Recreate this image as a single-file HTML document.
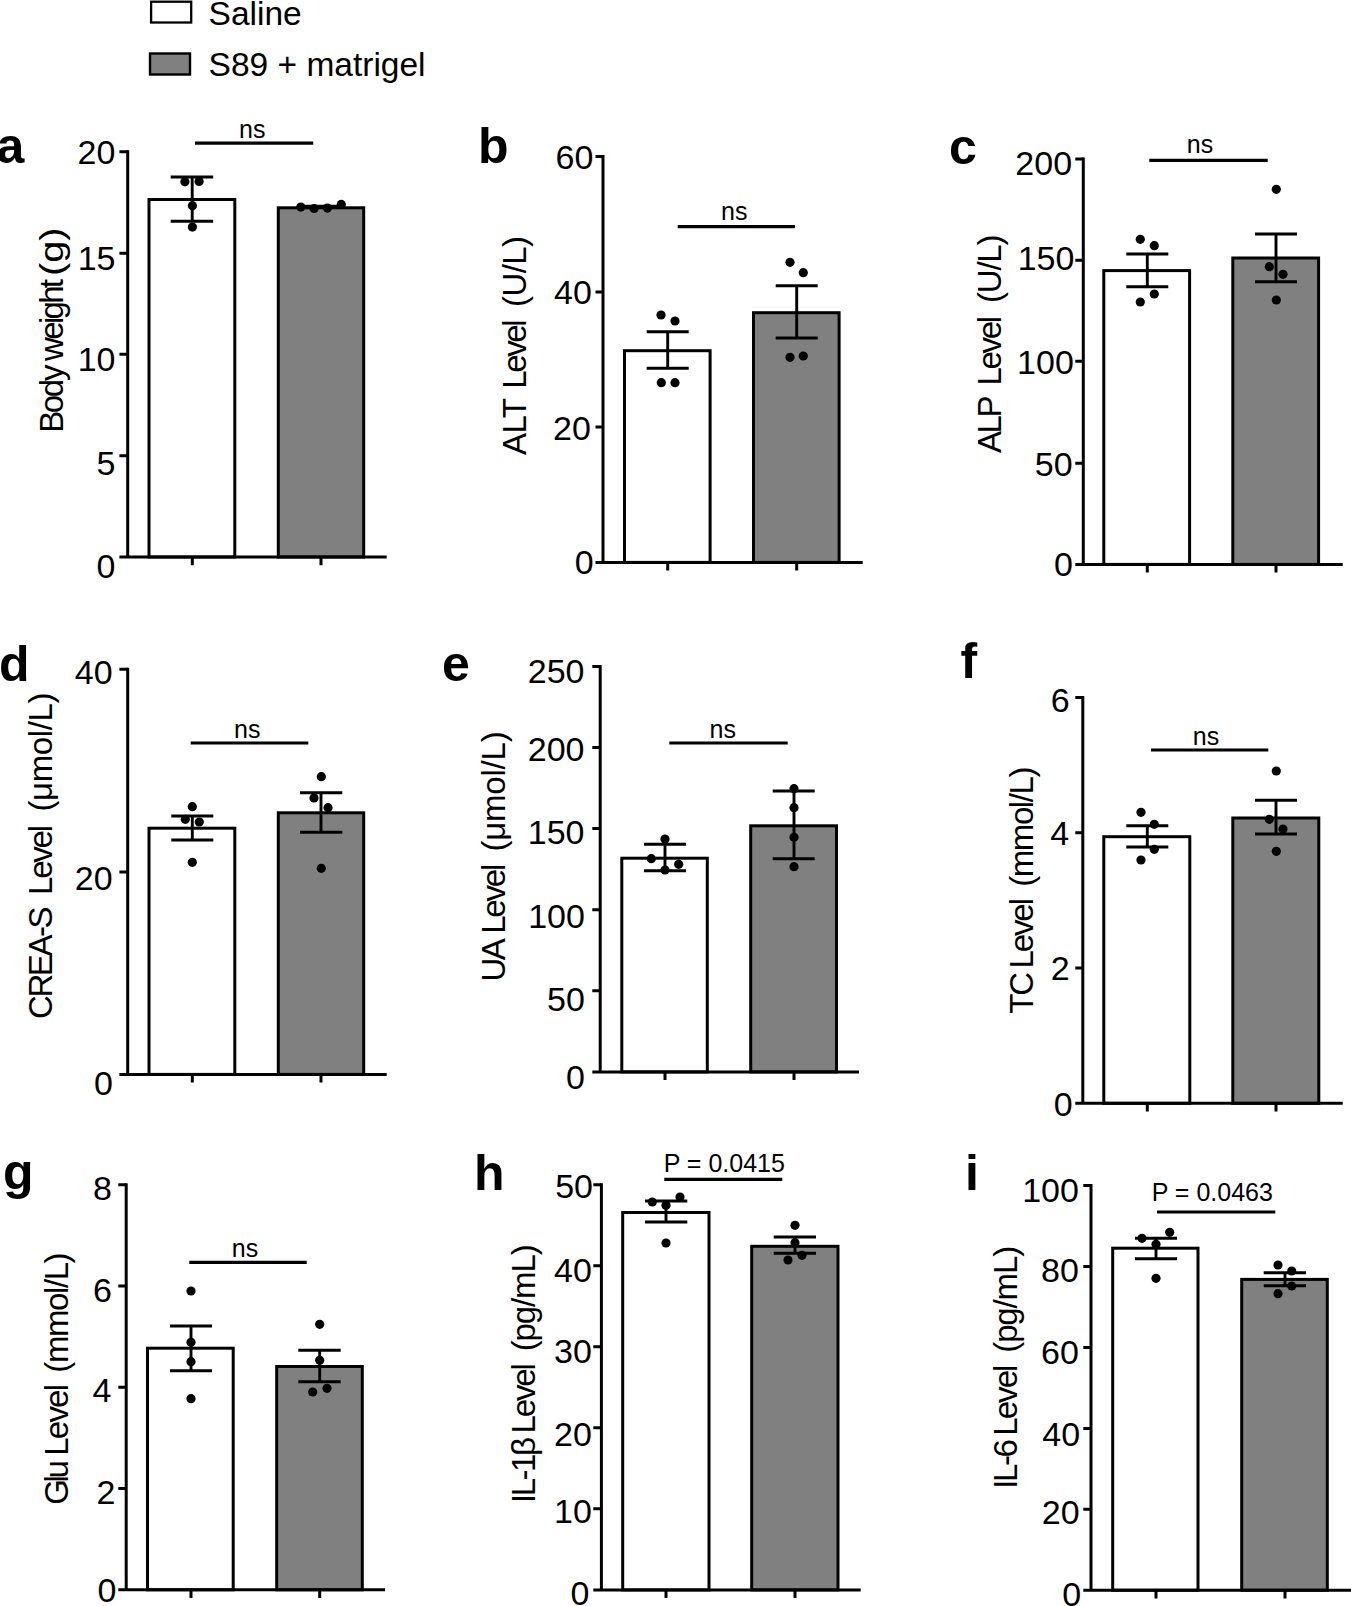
<!DOCTYPE html>
<html lang="en"><head><meta charset="utf-8"><title>Figure</title>
<style>html,body{margin:0;padding:0;background:#fff;overflow:hidden;width:1351px;height:1606px;font-family:"Liberation Sans",sans-serif}svg{display:block}</style></head>
<body>
<svg width="1351" height="1606" viewBox="0 0 1351 1606" font-family="'Liberation Sans', sans-serif" fill="#000">
<rect x="0" y="0" width="1351" height="1606" fill="#fff"/>
<rect x="151.1" y="1.7" width="40.1" height="20.8" fill="#fff" stroke="#000" stroke-width="2.3"/>
<rect x="150" y="53.5" width="40" height="21" fill="#808080" stroke="#000" stroke-width="2.4"/>
<text x="208.6" y="24.7" font-size="33.5">Saline</text>
<text x="208.6" y="75.9" font-size="33.5">S89 + matrigel</text>
<g>
<rect x="149" y="199.5" width="85.8" height="357.5" fill="#fff" stroke="#000" stroke-width="3.0"/>
<rect x="278.3" y="207.8" width="85.4" height="349.2" fill="#808080" stroke="#000" stroke-width="3.0"/>
<path d="M127.7 150.2V558.5M119.4 557H386.7" stroke="#000" stroke-width="3.0" fill="none"/>
<path d="M119.4 151.7H127.7M119.4 253.2H127.7M119.4 354.2H127.7M119.4 455.8H127.7M192.3 557V565.2M321 557V565.2" stroke="#000" stroke-width="3.0" fill="none"/>
<text x="115.3" y="164" font-size="34" text-anchor="end">20</text>
<text x="115.5" y="270" font-size="34" text-anchor="end">15</text>
<text x="115.5" y="371" font-size="34" text-anchor="end">10</text>
<text x="115.5" y="475" font-size="34" text-anchor="end">5</text>
<text x="115.5" y="578" font-size="34" text-anchor="end">0</text>
<path d="M192.2 177V221.3M170.7 177H213.2M170.7 221.3H213.2M321 206.2V207.2M300 206.2H342M300 207.2H342" stroke="#000" stroke-width="2.9" fill="none"/>
<circle cx="184.9" cy="181.8" r="4.6"/>
<circle cx="199.1" cy="181.5" r="4.6"/>
<circle cx="192.4" cy="205.8" r="4.6"/>
<circle cx="192.4" cy="227.1" r="4.6"/>
<circle cx="300.8" cy="207.1" r="4.6"/>
<circle cx="314.1" cy="208.5" r="4.6"/>
<circle cx="327.4" cy="208.1" r="4.6"/>
<circle cx="341.3" cy="204.4" r="4.6"/>
<text x="252.3" y="138.4" font-size="25" text-anchor="middle">ns</text>
<path d="M195 143.1H313.2" stroke="#000" stroke-width="3.2" fill="none"/>
<text transform="translate(63 432.8) rotate(-90)" font-size="33" textLength="68.2" lengthAdjust="spacing">Body</text>
<text transform="translate(63 360.9) rotate(-90)" font-size="33" textLength="81.9" lengthAdjust="spacing">weight</text>
<text transform="translate(63 275.9) rotate(-90)" font-size="33" textLength="48.5" lengthAdjust="spacingAndGlyphs">(g)</text>
<text x="-3.5" y="163.3" font-size="50" font-weight="bold">a</text>
</g>
<g>
<rect x="624.5" y="350.7" width="85.6" height="211.7" fill="#fff" stroke="#000" stroke-width="3.0"/>
<rect x="753.5" y="312.7" width="85.6" height="249.7" fill="#808080" stroke="#000" stroke-width="3.0"/>
<path d="M603 155.1V563.9M595.5 562.4H862.7" stroke="#000" stroke-width="3.0" fill="none"/>
<path d="M595.5 156.6H603M595.5 292H603M595.5 426.9H603M667.7 562.4V570.6M796.7 562.4V570.6" stroke="#000" stroke-width="3.0" fill="none"/>
<text x="593.3" y="169" font-size="34" text-anchor="end">60</text>
<text x="591.8" y="304" font-size="34" text-anchor="end">40</text>
<text x="590.8" y="440" font-size="34" text-anchor="end">20</text>
<text x="593.7" y="574" font-size="34" text-anchor="end">0</text>
<path d="M667.7 331.7V368.3M646.7 331.7H688.7M646.7 368.3H688.7M796.7 285.7V338M775.7 285.7H817.7M775.7 338H817.7" stroke="#000" stroke-width="2.9" fill="none"/>
<circle cx="661" cy="315" r="4.6"/>
<circle cx="675" cy="321" r="4.6"/>
<circle cx="661.3" cy="382.7" r="4.6"/>
<circle cx="675" cy="382.7" r="4.6"/>
<circle cx="790" cy="262.3" r="4.6"/>
<circle cx="803.3" cy="272.7" r="4.6"/>
<circle cx="790" cy="357.3" r="4.6"/>
<circle cx="803.3" cy="356" r="4.6"/>
<text x="734.3" y="220" font-size="25" text-anchor="middle">ns</text>
<path d="M677.7 226.7H795" stroke="#000" stroke-width="3.2" fill="none"/>
<text transform="translate(525.6 454.9) rotate(-90)" font-size="33" textLength="56.9" lengthAdjust="spacing">ALT</text>
<text transform="translate(525.6 388.7) rotate(-90)" font-size="33" textLength="69.4" lengthAdjust="spacing">Level</text>
<text transform="translate(525.6 307) rotate(-90)" font-size="33" textLength="71.1" lengthAdjust="spacing">(U/L)</text>
<text x="478" y="163.4" font-size="50" font-weight="bold">b</text>
</g>
<g>
<rect x="1103.8" y="270.6" width="85.8" height="293.8" fill="#fff" stroke="#000" stroke-width="3.0"/>
<rect x="1232.8" y="258" width="85.8" height="306.4" fill="#808080" stroke="#000" stroke-width="3.0"/>
<path d="M1083.3 157.4V565.9M1075.3 564.4H1342.7" stroke="#000" stroke-width="3.0" fill="none"/>
<path d="M1075.3 158.9H1083.3M1075.3 260.3H1083.3M1075.3 361.3H1083.3M1075.3 463.3H1083.3M1147.3 564.4V572.6M1276 564.4V572.6" stroke="#000" stroke-width="3.0" fill="none"/>
<text x="1072.1" y="175" font-size="34" text-anchor="end">200</text>
<text x="1074.4" y="270" font-size="34" text-anchor="end">150</text>
<text x="1073.8" y="374" font-size="34" text-anchor="end">100</text>
<text x="1072.6" y="476" font-size="34" text-anchor="end">50</text>
<text x="1072.9" y="576" font-size="34" text-anchor="end">0</text>
<path d="M1147.3 254V286.7M1126.3 254H1168.3M1126.3 286.7H1168.3M1276 234V281.7M1255 234H1297M1255 281.7H1297" stroke="#000" stroke-width="2.9" fill="none"/>
<circle cx="1140.3" cy="239.3" r="4.6"/>
<circle cx="1154.3" cy="245.7" r="4.6"/>
<circle cx="1154.3" cy="294" r="4.6"/>
<circle cx="1140.3" cy="302" r="4.6"/>
<circle cx="1276.3" cy="189.3" r="4.6"/>
<circle cx="1269.3" cy="266.7" r="4.6"/>
<circle cx="1283" cy="274.3" r="4.6"/>
<circle cx="1276.3" cy="300" r="4.6"/>
<text x="1200" y="153.3" font-size="25" text-anchor="middle">ns</text>
<path d="M1149.3 160.3H1267.7" stroke="#000" stroke-width="3.2" fill="none"/>
<text transform="translate(1001 452.9) rotate(-90)" font-size="33" textLength="57.3" lengthAdjust="spacing">ALP</text>
<text transform="translate(1001 385.5) rotate(-90)" font-size="33" textLength="69.5" lengthAdjust="spacing">Level</text>
<text transform="translate(1001 302.9) rotate(-90)" font-size="33" textLength="68.3" lengthAdjust="spacing">(U/L)</text>
<text x="949" y="163.7" font-size="50" font-weight="bold">c</text>
</g>
<g>
<rect x="149" y="828.2" width="85.8" height="246.2" fill="#fff" stroke="#000" stroke-width="3.0"/>
<rect x="278.3" y="812.8" width="85.4" height="261.6" fill="#808080" stroke="#000" stroke-width="3.0"/>
<path d="M127.7 667.8V1075.9M119.4 1074.4H386.7" stroke="#000" stroke-width="3.0" fill="none"/>
<path d="M119.4 669.3H127.7M119.4 871.9H127.7M192.3 1074.4V1082.6M321 1074.4V1082.6" stroke="#000" stroke-width="3.0" fill="none"/>
<text x="112.6" y="684" font-size="34" text-anchor="end">40</text>
<text x="112.6" y="890" font-size="34" text-anchor="end">20</text>
<text x="112.9" y="1095" font-size="34" text-anchor="end">0</text>
<path d="M192.3 816V840M171.3 816H213.3M171.3 840H213.3M321 792.7V832.3M300 792.7H342.3M300 832.3H342.3" stroke="#000" stroke-width="2.9" fill="none"/>
<circle cx="192.3" cy="806.7" r="4.6"/>
<circle cx="185.3" cy="819.3" r="4.6"/>
<circle cx="199.3" cy="822" r="4.6"/>
<circle cx="192.3" cy="862.3" r="4.6"/>
<circle cx="321.3" cy="776.7" r="4.6"/>
<circle cx="314" cy="798" r="4.6"/>
<circle cx="328" cy="807.7" r="4.6"/>
<circle cx="321.3" cy="868.3" r="4.6"/>
<text x="247.3" y="738.3" font-size="25" text-anchor="middle">ns</text>
<path d="M190.7 743H308.3" stroke="#000" stroke-width="3.2" fill="none"/>
<text transform="translate(52.1 1019) rotate(-90)" font-size="33" textLength="112.6" lengthAdjust="spacing">CREA-S</text>
<text transform="translate(52.1 894.9) rotate(-90)" font-size="33" textLength="69.9" lengthAdjust="spacing">Level</text>
<text transform="translate(52.1 811.6) rotate(-90)" font-size="33" textLength="119.1" lengthAdjust="spacing">(μmol/L)</text>
<text x="-1" y="680.7" font-size="50" font-weight="bold">d</text>
</g>
<g>
<rect x="621.8" y="858.2" width="85.5" height="213.7" fill="#fff" stroke="#000" stroke-width="3.0"/>
<rect x="750.7" y="825.8" width="85.8" height="246.1" fill="#808080" stroke="#000" stroke-width="3.0"/>
<path d="M600.2 664.9V1073.4M592.3 1071.9H859" stroke="#000" stroke-width="3.0" fill="none"/>
<path d="M592.3 666.4H600.2M592.3 747.5H600.2M592.3 828.6H600.2M592.3 909.7H600.2M592.3 990.8H600.2M665 1071.9V1080.1M794 1071.9V1080.1" stroke="#000" stroke-width="3.0" fill="none"/>
<text x="584.5" y="683" font-size="34" text-anchor="end">250</text>
<text x="584.5" y="761" font-size="34" text-anchor="end">200</text>
<text x="584.5" y="844" font-size="34" text-anchor="end">150</text>
<text x="584.9" y="928" font-size="34" text-anchor="end">100</text>
<text x="584.9" y="1011" font-size="34" text-anchor="end">50</text>
<text x="584.9" y="1089" font-size="34" text-anchor="end">0</text>
<path d="M665 844.3V870.7M644 844.3H686M644 870.7H686M794 791V858.7M772.7 791H814.7M772.7 858.7H814.7" stroke="#000" stroke-width="2.9" fill="none"/>
<circle cx="665" cy="839" r="4.6"/>
<circle cx="651.3" cy="858.7" r="4.6"/>
<circle cx="678.7" cy="864.3" r="4.6"/>
<circle cx="665" cy="870" r="4.6"/>
<circle cx="794" cy="788.7" r="4.6"/>
<circle cx="794" cy="807.7" r="4.6"/>
<circle cx="794" cy="837.3" r="4.6"/>
<circle cx="794" cy="866.7" r="4.6"/>
<text x="722.7" y="738.3" font-size="25" text-anchor="middle">ns</text>
<path d="M669.3 743H787.7" stroke="#000" stroke-width="3.2" fill="none"/>
<text transform="translate(505.2 981.5) rotate(-90)" font-size="33" textLength="43.4" lengthAdjust="spacing">UA</text>
<text transform="translate(505.2 933.8) rotate(-90)" font-size="33" textLength="70.1" lengthAdjust="spacing">Level</text>
<text transform="translate(505.2 851.6) rotate(-90)" font-size="33" textLength="120.3" lengthAdjust="spacing">(μmol/L)</text>
<text x="442" y="681.2" font-size="50" font-weight="bold">e</text>
</g>
<g>
<rect x="1103.8" y="836.7" width="86" height="266.6" fill="#fff" stroke="#000" stroke-width="3.0"/>
<rect x="1232.8" y="818" width="86" height="285.3" fill="#808080" stroke="#000" stroke-width="3.0"/>
<path d="M1082.8 695.9V1104.8M1075.3 1103.3H1342.7" stroke="#000" stroke-width="3.0" fill="none"/>
<path d="M1075.3 697.4H1082.8M1075.3 832.7H1082.8M1075.3 968H1082.8M1147.3 1103.3V1111.5M1276 1103.3V1111.5" stroke="#000" stroke-width="3.0" fill="none"/>
<text x="1069.6" y="712" font-size="34" text-anchor="end">6</text>
<text x="1069.2" y="845" font-size="34" text-anchor="end">4</text>
<text x="1069.6" y="980" font-size="34" text-anchor="end">2</text>
<text x="1072.6" y="1116" font-size="34" text-anchor="end">0</text>
<path d="M1147.3 825.7V847M1126.3 825.7H1168.3M1126.3 847H1168.3M1276 800.3V834M1255 800.3H1297M1255 834H1297" stroke="#000" stroke-width="2.9" fill="none"/>
<circle cx="1141" cy="812.3" r="4.6"/>
<circle cx="1154.3" cy="824.3" r="4.6"/>
<circle cx="1154.3" cy="849.3" r="4.6"/>
<circle cx="1141" cy="860" r="4.6"/>
<circle cx="1276.3" cy="771" r="4.6"/>
<circle cx="1269.3" cy="819.3" r="4.6"/>
<circle cx="1283" cy="829" r="4.6"/>
<circle cx="1276.3" cy="851.3" r="4.6"/>
<text x="1206" y="745" font-size="25" text-anchor="middle">ns</text>
<path d="M1151 750H1268.3" stroke="#000" stroke-width="3.2" fill="none"/>
<text transform="translate(1032.6 1013.7) rotate(-90)" font-size="33" textLength="41.7" lengthAdjust="spacing">TC</text>
<text transform="translate(1032.6 968.6) rotate(-90)" font-size="33" textLength="70.6" lengthAdjust="spacing">Level</text>
<text transform="translate(1032.6 886.8) rotate(-90)" font-size="33" textLength="120.3" lengthAdjust="spacing">(mmol/L)</text>
<text x="960.5" y="678" font-size="50" font-weight="bold">f</text>
</g>
<g>
<rect x="147.5" y="1348.2" width="85.7" height="241.6" fill="#fff" stroke="#000" stroke-width="3.0"/>
<rect x="276.7" y="1366.5" width="85.6" height="223.3" fill="#808080" stroke="#000" stroke-width="3.0"/>
<path d="M126.2 1183.3V1591.3M118.3 1589.8H385" stroke="#000" stroke-width="3.0" fill="none"/>
<path d="M118.3 1184.8H126.2M118.3 1286H126.2M118.3 1387.2H126.2M118.3 1488.5H126.2M191 1589.8V1598M319.7 1589.8V1598" stroke="#000" stroke-width="3.0" fill="none"/>
<text x="111.9" y="1200" font-size="34" text-anchor="end">8</text>
<text x="111.9" y="1302" font-size="34" text-anchor="end">6</text>
<text x="111.4" y="1402" font-size="34" text-anchor="end">4</text>
<text x="115.3" y="1504" font-size="34" text-anchor="end">2</text>
<text x="116.3" y="1602" font-size="34" text-anchor="end">0</text>
<path d="M191 1326V1370.7M170 1326H212M170 1370.7H212M319.7 1350.3V1381.7M298.3 1350.3H340.7M298.3 1381.7H340.7" stroke="#000" stroke-width="2.9" fill="none"/>
<circle cx="191" cy="1291" r="4.6"/>
<circle cx="191" cy="1342.3" r="4.6"/>
<circle cx="191" cy="1361.7" r="4.6"/>
<circle cx="191" cy="1398.7" r="4.6"/>
<circle cx="319.7" cy="1324.3" r="4.6"/>
<circle cx="319.7" cy="1360.3" r="4.6"/>
<circle cx="312.7" cy="1392" r="4.6"/>
<circle cx="327" cy="1388.3" r="4.6"/>
<text x="245" y="1257" font-size="25" text-anchor="middle">ns</text>
<path d="M189.3 1262.3H306.7" stroke="#000" stroke-width="3.2" fill="none"/>
<text transform="translate(68.4 1504.8) rotate(-90)" font-size="33" textLength="44.7" lengthAdjust="spacing">Glu</text>
<text transform="translate(68.4 1455.7) rotate(-90)" font-size="33" textLength="71.7" lengthAdjust="spacing">Level</text>
<text transform="translate(68.4 1372.7) rotate(-90)" font-size="33" textLength="120.3" lengthAdjust="spacing">(mmol/L)</text>
<text x="3" y="1188.8" font-size="50" font-weight="bold">g</text>
</g>
<g>
<rect x="622.7" y="1212.5" width="86.3" height="377.4" fill="#fff" stroke="#000" stroke-width="3.0"/>
<rect x="751.7" y="1246.3" width="86.3" height="343.6" fill="#808080" stroke="#000" stroke-width="3.0"/>
<path d="M601.4 1183.3V1591.4M593.3 1589.9H860.7" stroke="#000" stroke-width="3.0" fill="none"/>
<path d="M593.3 1184.8H601.4M593.3 1265.8H601.4M593.3 1346.8H601.4M593.3 1427.8H601.4M593.3 1508.8H601.4M666 1589.9V1598.1M795 1589.9V1598.1" stroke="#000" stroke-width="3.0" fill="none"/>
<text x="593" y="1198" font-size="34" text-anchor="end">50</text>
<text x="591.8" y="1282" font-size="34" text-anchor="end">40</text>
<text x="591.8" y="1363" font-size="34" text-anchor="end">30</text>
<text x="591.8" y="1446" font-size="34" text-anchor="end">20</text>
<text x="591.8" y="1523" font-size="34" text-anchor="end">10</text>
<text x="589.3" y="1605" font-size="34" text-anchor="end">0</text>
<path d="M666 1201V1222M645 1201H687.3M645 1222H687.3M795 1237V1253.3M773.7 1237H816M773.7 1253.3H816" stroke="#000" stroke-width="2.9" fill="none"/>
<circle cx="652.3" cy="1202" r="4.6"/>
<circle cx="680" cy="1197" r="4.6"/>
<circle cx="666" cy="1205.3" r="4.6"/>
<circle cx="666" cy="1243" r="4.6"/>
<circle cx="795" cy="1225.3" r="4.6"/>
<circle cx="795" cy="1242.7" r="4.6"/>
<circle cx="788" cy="1260" r="4.6"/>
<circle cx="802" cy="1255.3" r="4.6"/>
<text x="724.3" y="1171.7" font-size="25" text-anchor="middle">P = 0.0415</text>
<path d="M664.3 1179.3H782.3" stroke="#000" stroke-width="3.2" fill="none"/>
<text transform="translate(535.1 1502.9) rotate(-90)" font-size="33" textLength="65.8" lengthAdjust="spacing">IL-1β</text>
<text transform="translate(535.1 1433.5) rotate(-90)" font-size="33" textLength="70.3" lengthAdjust="spacing">Level</text>
<text transform="translate(535.1 1351.3) rotate(-90)" font-size="33" textLength="107" lengthAdjust="spacing">(pg/mL)</text>
<text x="474" y="1189.7" font-size="50" font-weight="bold">h</text>
</g>
<g>
<rect x="1112.7" y="1248.2" width="85.3" height="342" fill="#fff" stroke="#000" stroke-width="3.0"/>
<rect x="1241.7" y="1279.4" width="85.6" height="310.8" fill="#808080" stroke="#000" stroke-width="3.0"/>
<path d="M1091 1184.1V1591.7M1083.3 1590.2H1352" stroke="#000" stroke-width="3.0" fill="none"/>
<path d="M1083.3 1185.6H1091M1083.3 1266.5H1091M1083.3 1347.4H1091M1083.3 1428.4H1091M1083.3 1509.3H1091M1156 1590.2V1598.4M1285 1590.2V1598.4" stroke="#000" stroke-width="3.0" fill="none"/>
<text x="1078.9" y="1202" font-size="34" text-anchor="end">100</text>
<text x="1078.9" y="1282" font-size="34" text-anchor="end">80</text>
<text x="1078.9" y="1364" font-size="34" text-anchor="end">60</text>
<text x="1080.1" y="1446" font-size="34" text-anchor="end">40</text>
<text x="1079.6" y="1524" font-size="34" text-anchor="end">20</text>
<text x="1081.1" y="1606" font-size="34" text-anchor="end">0</text>
<path d="M1156 1238.3V1258.7M1135 1238.3H1177M1135 1258.7H1177M1285 1272.7V1285.7M1263.7 1272.7H1306M1263.7 1285.7H1306" stroke="#000" stroke-width="2.9" fill="none"/>
<circle cx="1142" cy="1238.3" r="4.6"/>
<circle cx="1169.7" cy="1232.3" r="4.6"/>
<circle cx="1156" cy="1244.3" r="4.6"/>
<circle cx="1156" cy="1278.3" r="4.6"/>
<circle cx="1278" cy="1265" r="4.6"/>
<circle cx="1291.7" cy="1271" r="4.6"/>
<circle cx="1291.7" cy="1286" r="4.6"/>
<circle cx="1278" cy="1293.7" r="4.6"/>
<text x="1212.3" y="1201" font-size="25" text-anchor="middle">P = 0.0463</text>
<path d="M1157 1212H1275.3" stroke="#000" stroke-width="3.2" fill="none"/>
<text transform="translate(1016.5 1488.8) rotate(-90)" font-size="33" textLength="49.7" lengthAdjust="spacing">IL-6</text>
<text transform="translate(1016.5 1435.7) rotate(-90)" font-size="33" textLength="71.1" lengthAdjust="spacing">Level</text>
<text transform="translate(1016.5 1352.7) rotate(-90)" font-size="33" textLength="106.9" lengthAdjust="spacing">(pg/mL)</text>
<text x="965" y="1189.7" font-size="50" font-weight="bold">i</text>
</g>
</svg>
</body></html>
